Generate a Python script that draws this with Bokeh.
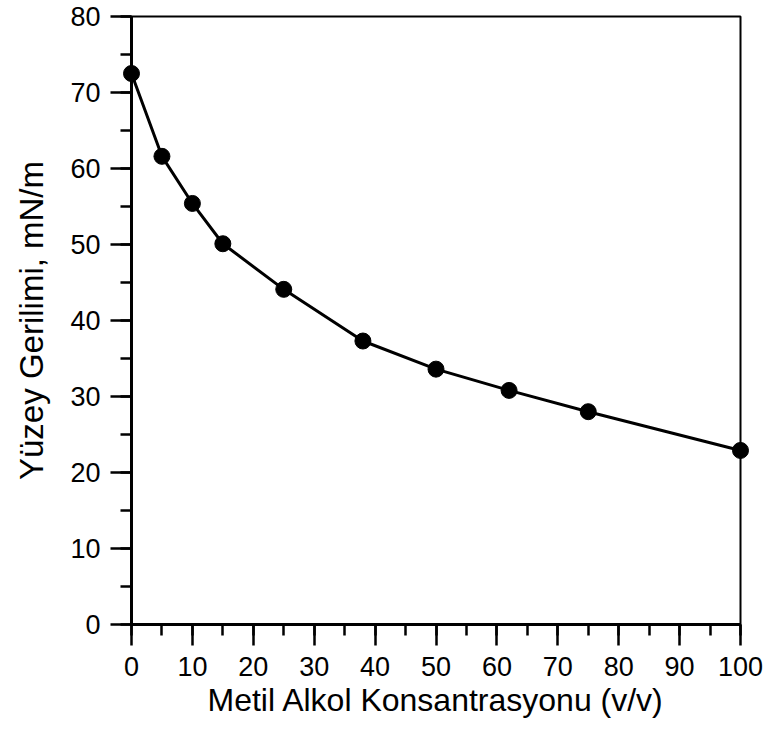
from bokeh.plotting import figure
from bokeh.models import Range1d, SingleIntervalTicker
from bokeh.embed import file_html
from bokeh.resources import INLINE

# Data
concentration = [0, 5, 10, 15, 25, 38, 50, 62, 75, 100]
surface_tension = [72.5, 61.6, 55.4, 50.1, 44.1, 37.3, 33.6, 30.8, 28.0, 22.9]

x_title = "Metil Alkol Konsantrasyonu (v/v)"
y_title = "Yüzey Gerilimi, mN/m"

FONT = "Liberation Sans"

p = figure(width=768, height=733, output_backend="svg", toolbar_location=None,
           x_range=Range1d(0, 100), y_range=Range1d(0, 80),
           min_border_left=131, min_border_right=28,
           min_border_top=16, min_border_bottom=109)

p.line(concentration, surface_tension, line_color="black", line_width=3)
# overlay level so the end markers are not clipped at the frame edge
p.scatter(concentration, surface_tension, size=16, fill_color="black",
          line_color="black", level="overlay")

p.xgrid.visible = False
p.ygrid.visible = False
p.outline_line_color = "black"
p.outline_line_width = 2
p.outline_line_alpha = 1
p.background_fill_color = "white"
p.border_fill_color = "white"

p.xaxis.ticker = SingleIntervalTicker(interval=10, num_minor_ticks=2)
p.yaxis.ticker = SingleIntervalTicker(interval=10, num_minor_ticks=2)

for ax in (p.xaxis, p.yaxis):
    ax.axis_line_width = 3
    ax.axis_line_color = "black"
    ax.major_tick_line_width = 2.5
    ax.minor_tick_line_width = 2.5
    ax.major_tick_line_color = "black"
    ax.minor_tick_line_color = "black"
    ax.major_tick_out = 21
    ax.major_tick_in = 0
    ax.minor_tick_out = 11
    ax.minor_tick_in = 0
    ax.major_label_text_font = FONT
    ax.major_label_text_font_size = "27px"
    ax.major_label_text_color = "black"
    ax.axis_label_text_font = FONT
    ax.axis_label_text_font_style = "normal"
    ax.axis_label_text_color = "black"

p.xaxis.axis_label = x_title
p.yaxis.axis_label = y_title
p.xaxis.axis_label_text_font_size = "32px"
p.yaxis.axis_label_text_font_size = "33px"
p.xaxis.major_label_standoff = 11
p.yaxis.major_label_standoff = 10
p.xaxis.axis_label_standoff = 3
p.yaxis.axis_label_standoff = 17

open("out.html", "w").write(file_html(p, INLINE))
